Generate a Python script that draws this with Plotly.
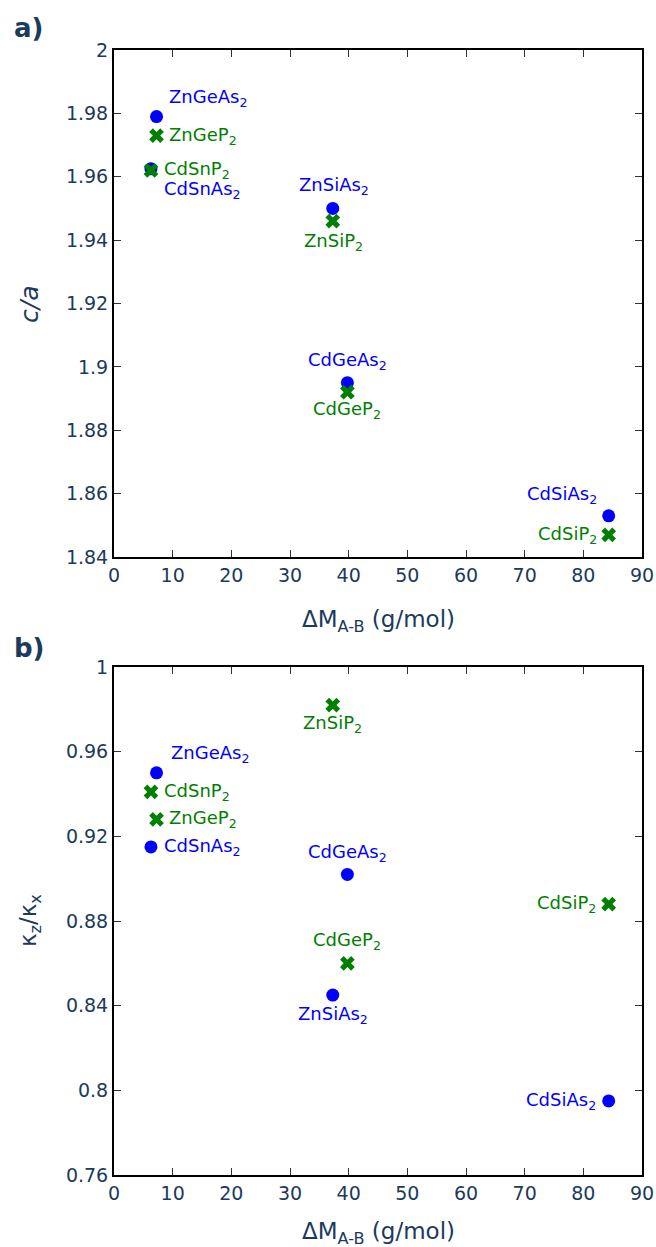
import plotly.graph_objects as go

# Mass difference between A and B cations, g/mol
dm_as = [7.25, 6.3, 37.29, 39.78, 84.32]          # arsenides
dm_p = [7.25, 6.3, 37.29, 39.78, 84.32]           # phosphides
names_as = ["ZnGeAs<sub>2</sub>", "CdSnAs<sub>2</sub>", "ZnSiAs<sub>2</sub>",
            "CdGeAs<sub>2</sub>", "CdSiAs<sub>2</sub>"]
names_p = ["ZnGeP<sub>2</sub>", "CdSnP<sub>2</sub>", "ZnSiP<sub>2</sub>",
           "CdGeP<sub>2</sub>", "CdSiP<sub>2</sub>"]

# c/a ratio
ca_as = [1.979, 1.9625, 1.950, 1.895, 1.853]
ca_p = [1.973, 1.962, 1.946, 1.892, 1.847]

# thermal conductivity anisotropy kappa_z / kappa_x
kap_as = [0.950, 0.915, 0.845, 0.902, 0.795]
kap_p = [0.928, 0.941, 0.982, 0.860, 0.888]

x_ticks = [0, 10, 20, 30, 40, 50, 60, 70, 80, 90]
ca_ticks = [1.84, 1.86, 1.88, 1.9, 1.92, 1.94, 1.96, 1.98, 2]
ca_ticktext = ["1.84", "1.86", "1.88", "1.9", "1.92", "1.94", "1.96", "1.98", "2"]
kap_ticks = [0.76, 0.8, 0.84, 0.88, 0.92, 0.96, 1]
kap_ticktext = ["0.76", "0.8", "0.84", "0.88", "0.92", "0.96", "1"]

BLUE = "#0000ff"
GREEN = "#008000"
NAVY = "#1b3a5c"
FONT = "DejaVu Sans"

# label placement: (xanchor, xshift, yshift) in pixels
place_ca_as = [("left", 10, 19), ("left", 11, -21), ("center", 1, 22),
               ("center", 0, 22), ("right", -10, 21)]
place_ca_p = [("left", 10, 0), ("left", 11, 0), ("center", 1, -21),
              ("center", 0, -18), ("right", -10, 0)]
place_k_as = [("left", 12, 19), ("left", 11, 0), ("center", 0, -20),
              ("center", 0, 21), ("right", -11, 0)]
place_k_p = [("left", 10, 0), ("left", 11, 0), ("center", 0, -19),
             ("center", 0, 22), ("right", -11, 0)]

fig = go.Figure()

fig.add_trace(go.Scatter(x=dm_as, y=ca_as, mode="markers", xaxis="x", yaxis="y",
                         marker=dict(symbol="circle", size=13, color=BLUE),
                         showlegend=False, hoverinfo="skip"))
fig.add_trace(go.Scatter(x=dm_p, y=ca_p, mode="markers", xaxis="x", yaxis="y",
                         marker=dict(symbol="x", size=13, color=GREEN),
                         showlegend=False, hoverinfo="skip"))
fig.add_trace(go.Scatter(x=dm_as, y=kap_as, mode="markers", xaxis="x2", yaxis="y2",
                         marker=dict(symbol="circle", size=13, color=BLUE),
                         showlegend=False, hoverinfo="skip"))
fig.add_trace(go.Scatter(x=dm_p, y=kap_p, mode="markers", xaxis="x2", yaxis="y2",
                         marker=dict(symbol="x", size=13, color=GREEN),
                         showlegend=False, hoverinfo="skip"))

annotations = []


def add_labels(xs, ys, names, places, color, xref, yref):
    for xv, yv, name, (anc, dx, dy) in zip(xs, ys, names, places):
        annotations.append(dict(
            x=xv, y=yv, xref=xref, yref=yref, text=name, showarrow=False,
            xanchor=anc, yanchor="middle", xshift=dx, yshift=dy,
            font=dict(family=FONT, size=18, color=color)))


add_labels(dm_as, ca_as, names_as, place_ca_as, BLUE, "x", "y")
add_labels(dm_p, ca_p, names_p, place_ca_p, GREEN, "x", "y")
add_labels(dm_as, kap_as, names_as, place_k_as, BLUE, "x2", "y2")
add_labels(dm_p, kap_p, names_p, place_k_p, GREEN, "x2", "y2")

# panel letters and axis titles
W, H = 656, 1247
ML, MR, MT, MB = 114, 14, 50, 72
PW, PH = W - ML - MR, H - MT - MB


def px(xp):
    return (xp - ML) / PW


def py(yp):
    return (H - MB - yp) / PH


annotations += [
    dict(x=px(12), y=py(28), xref="paper", yref="paper", text="<b>a)</b>",
         showarrow=False, xanchor="left", yanchor="middle",
         font=dict(family=FONT, size=26, color=NAVY)),
    dict(x=px(12), y=py(648), xref="paper", yref="paper", text="<b>b)</b>",
         showarrow=False, xanchor="left", yanchor="middle",
         font=dict(family=FONT, size=26, color=NAVY)),
    dict(x=0.5, y=py(621), xref="paper", yref="paper",
         text="ΔM<sub>A-B</sub> (g/mol)", showarrow=False,
         xanchor="center", yanchor="middle",
         font=dict(family=FONT, size=23, color=NAVY)),
    dict(x=0.5, y=py(1233), xref="paper", yref="paper",
         text="ΔM<sub>A-B</sub> (g/mol)", showarrow=False,
         xanchor="center", yanchor="middle",
         font=dict(family=FONT, size=23, color=NAVY)),
    dict(x=px(29), y=py(304), xref="paper", yref="paper", text="<i>c/a</i>",
         showarrow=False, textangle=-90, xanchor="center", yanchor="middle",
         font=dict(family=FONT, size=25, color=NAVY)),
    dict(x=px(30), y=py(921), xref="paper", yref="paper",
         text="κ<sub>z</sub>/κ<sub>x</sub>", showarrow=False, textangle=-90,
         xanchor="center", yanchor="middle",
         font=dict(family=FONT, size=23, color=NAVY)),
]

axis_common = dict(
    showline=True, linecolor="black", linewidth=2, mirror="ticks",
    ticks="inside", ticklen=7, tickwidth=1.3, tickcolor="#333333",
    showgrid=False, zeroline=False, automargin=False,
    tickfont=dict(family=FONT, size=19, color=NAVY),
)

top_dom = [py(557), 1.0]
bot_dom = [0.0, py(667)]

fig.update_layout(
    width=W, height=H, autosize=False,
    margin=dict(l=ML, r=MR, t=MT, b=MB),
    plot_bgcolor="white", paper_bgcolor="white",
    xaxis=dict(domain=[0, 1], anchor="y", range=[0, 90], tickvals=x_ticks,
               **axis_common),
    yaxis=dict(domain=top_dom, anchor="x", range=[1.84, 2], tickvals=ca_ticks,
               ticktext=ca_ticktext, **axis_common),
    xaxis2=dict(domain=[0, 1], anchor="y2", range=[0, 90], tickvals=x_ticks,
                **axis_common),
    yaxis2=dict(domain=bot_dom, anchor="x2", range=[0.76, 1], tickvals=kap_ticks,
                ticktext=kap_ticktext, **axis_common),
    annotations=annotations,
)

fig.write_html("out.html")
